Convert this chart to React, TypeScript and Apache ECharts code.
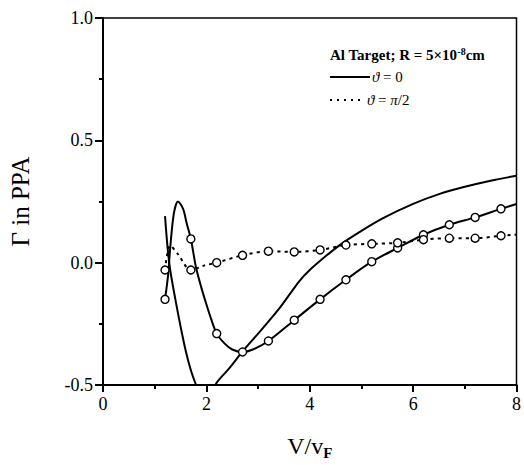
import React, { useEffect, useRef } from "react";
import * as echarts from "echarts";

// Solid curve without markers (ϑ = 0)
const curveA: [number, number][] = [
  [1.2, 0.19], [1.25, 0.06], [1.3, -0.03], [1.4, -0.15], [1.5, -0.26], [1.6, -0.36],
  [1.7, -0.44], [1.8, -0.5], [1.9, -0.55], [2.0, -0.565], [2.1, -0.535], [2.2, -0.49],
  [2.45, -0.43], [2.7, -0.363], [3.0, -0.29], [3.4, -0.19], [3.8, -0.075], [4.0, -0.03],
  [4.3, 0.025], [4.6, 0.075], [5.0, 0.13], [5.4, 0.18], [6.0, 0.24], [6.5, 0.28],
  [7.0, 0.31], [7.5, 0.335], [8.0, 0.355],
];

// Solid curve with open circles (ϑ = 0)
const curveB: [number, number][] = [
  [1.2, -0.15], [1.26, -0.05], [1.3, 0.06], [1.37, 0.2], [1.45, 0.25], [1.55, 0.22],
  [1.62, 0.16], [1.7, 0.097], [1.8, -0.02], [1.9, -0.1], [2.0, -0.17], [2.1, -0.235],
  [2.2, -0.29], [2.35, -0.33], [2.5, -0.355], [2.7, -0.365], [2.9, -0.355], [3.2, -0.32],
  [3.7, -0.235], [4.2, -0.15], [4.7, -0.07], [5.2, 0.004], [5.7, 0.06], [6.2, 0.114],
  [6.7, 0.155], [7.2, 0.185], [7.7, 0.22], [8.0, 0.24],
];

// Dotted curve with open circles (ϑ = π/2)
const curveC: [number, number][] = [
  [1.2, -0.03], [1.3, 0.07], [1.45, 0.035], [1.7, -0.03], [1.95, -0.012], [2.2, 0.0],
  [2.7, 0.03], [3.2, 0.047], [3.7, 0.044], [4.2, 0.052], [4.7, 0.072], [5.2, 0.077],
  [5.7, 0.081], [6.2, 0.094], [6.7, 0.1], [7.2, 0.1], [7.7, 0.11], [8.0, 0.115],
];

const markerXs: number[] = [1.2, 1.7, 2.2, 2.7, 3.2, 3.7, 4.2, 4.7, 5.2, 5.7, 6.2, 6.7, 7.2, 7.7];
const yTicks: number[] = [-0.5, 0.0, 0.5, 1.0];
const xTicks: number[] = [0, 2, 4, 6, 8];

const legendTitle = "Al Target; R = 5×10{sup|-8}cm";
const legendSolid = "{i|ϑ} = 0";
const legendDotted = "{i|ϑ} = {i|π}/2";

const FONT = "'Liberation Serif', 'Times New Roman', serif";

export default function App() {
  const ref = useRef<HTMLDivElement>(null);
  useEffect(() => {
    if (!ref.current) return;
    const chart = echarts.init(ref.current, null, { renderer: "svg" });
    const markerSymbol = (v: number[]) =>
      markerXs.some((m) => Math.abs(m - v[0]) < 1e-6) ? "circle" : "none";
    const symbolStyle = { color: "#fff", borderColor: "#000", borderWidth: 1.4 };
    chart.setOption({
      animation: false,
      backgroundColor: "#fff",
      grid: {
        left: 102, right: 3, top: 18, bottom: 76,
        show: true, borderColor: "#000", borderWidth: 1.5, backgroundColor: "transparent",
      },
      xAxis: {
        type: "value", min: xTicks[0], max: xTicks[xTicks.length - 1], interval: 2,
        axisLine: { onZero: false, lineStyle: { color: "#000", width: 2 } },
        axisTick: { show: true, inside: false, length: 7, lineStyle: { color: "#000", width: 2 } },
        minorTick: { show: true, splitNumber: 2, length: 4, lineStyle: { color: "#000", width: 2 } },
        splitLine: { show: false },
        axisLabel: { color: "#000", fontFamily: FONT, fontSize: 18, margin: 10, formatter: (v: number) => String(v) },
        name: "V/v{sub|F}",
        nameLocation: "middle",
        nameGap: 46,
        nameTextStyle: {
          color: "#000", fontFamily: FONT, fontSize: 24,
          rich: { sub: { fontFamily: FONT, fontSize: 15, verticalAlign: "bottom", padding: [14, 0, 0, 0], color: "#000", fontWeight: "bold" } },
        },
      },
      yAxis: {
        type: "value", min: yTicks[0], max: yTicks[yTicks.length - 1], interval: 0.5,
        axisLine: { show: true, onZero: false, lineStyle: { color: "#000", width: 2 } },
        axisTick: { show: true, inside: false, length: 8, lineStyle: { color: "#000", width: 2 } },
        minorTick: { show: true, splitNumber: 2, length: 4, lineStyle: { color: "#000", width: 2 } },
        splitLine: { show: false },
        axisLabel: { color: "#000", fontFamily: FONT, fontSize: 18, margin: 10, formatter: (v: number) => v.toFixed(1) },
        name: "Γ in PPA",
        nameLocation: "middle",
        nameGap: 70,
        nameTextStyle: { color: "#000", fontFamily: FONT, fontSize: 25 },
      },
      series: [
        {
          type: "line", data: curveA, smooth: 0.3, showSymbol: false, symbol: "none",
          lineStyle: { color: "#000", width: 2 }, z: 2,
        },
        {
          type: "line", data: curveB, smooth: 0.3, symbol: markerSymbol, symbolSize: 8,
          showAllSymbol: true, itemStyle: symbolStyle,
          lineStyle: { color: "#000", width: 2 }, z: 3,
        },
        {
          type: "line", data: curveC, smooth: 0.3, symbol: markerSymbol, symbolSize: 8,
          showAllSymbol: true, itemStyle: symbolStyle,
          lineStyle: { color: "#000", width: 2, type: [3, 4] }, z: 3,
        },
      ],
      graphic: [
        {
          type: "text", left: 330, top: 46,
          style: {
            text: legendTitle, fill: "#000", fontFamily: FONT, fontSize: 15, fontWeight: "bold",
            rich: { sup: { fontFamily: FONT, fontSize: 10, fontWeight: "bold", verticalAlign: "top", padding: [0, 0, 8, 0] } },
          },
        },
        { type: "line", shape: { x1: 330, y1: 77, x2: 370, y2: 77 }, style: { stroke: "#000", lineWidth: 2 } },
        {
          type: "text", left: 372, top: 69,
          style: { text: legendSolid, fill: "#000", fontFamily: FONT, fontSize: 15, rich: { i: { fontStyle: "italic", fontFamily: FONT, fontSize: 15 } } },
        },
        { type: "line", shape: { x1: 330, y1: 100, x2: 362, y2: 100 }, style: { stroke: "#000", lineWidth: 2, lineDash: [2, 5] } },
        {
          type: "text", left: 367, top: 92,
          style: { text: legendDotted, fill: "#000", fontFamily: FONT, fontSize: 15, rich: { i: { fontStyle: "italic", fontFamily: FONT, fontSize: 15 } } },
        },
      ],
    });
    return () => chart.dispose();
  }, []);
  return <div ref={ref} style={{ position: "fixed", left: 0, top: 0, width: 524, height: 465 }} />;
}
